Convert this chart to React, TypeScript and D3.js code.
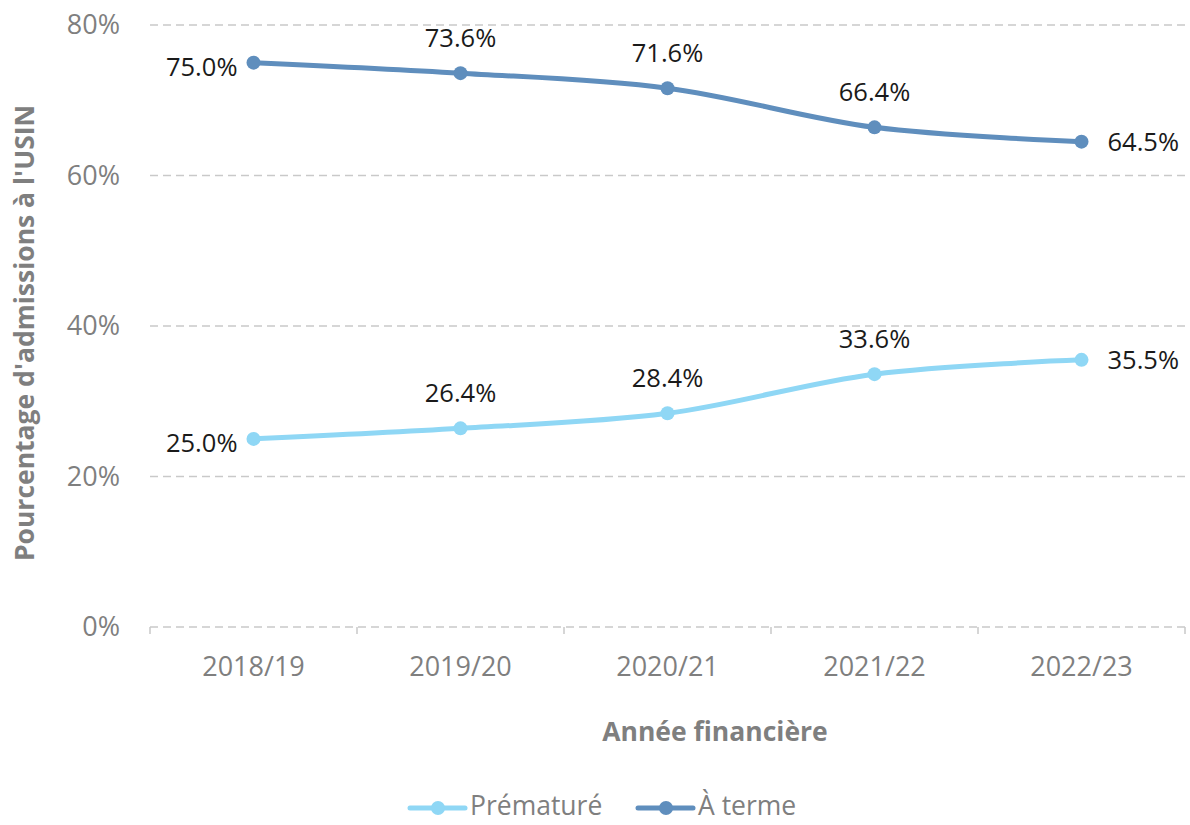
import React from "react";
import * as d3 from "d3";

const categories = ["2018/19", "2019/20", "2020/21", "2021/22", "2022/23"];
const premature = [25.0, 26.4, 28.4, 33.6, 35.5];
const aTerme = [75.0, 73.6, 71.6, 66.4, 64.5];
const yTicks = [0, 20, 40, 60, 80];
const labelPos = ["left", "above", "above", "above", "right"];

const W = 1190;
const H = 825;
const FONT = "'Open Sans', sans-serif";
const GRAY = "#7f7f7f";
const C_PRE = "#8fd7f5";
const C_TERM = "#5f8ebd";

export default function App() {
  const x = d3.scaleBand<string>().domain(categories).range([150, 1185]).padding(0);
  const y = d3.scaleLinear().domain([0, 80]).range([627, 25]);
  const cx = (c: string) => (x(c) as number) + x.bandwidth() / 2;
  const line = d3
    .line<number>()
    .x((_, i) => cx(categories[i]))
    .y((d) => y(d))
    .curve(d3.curveCatmullRom.alpha(0.5));

  const series = [
    { name: "Prématuré", values: premature, color: C_PRE },
    { name: "À terme", values: aTerme, color: C_TERM },
  ];

  const boundaries = categories.map((c) => x(c) as number).concat([1185]);

  return (
    <svg width={W} height={H} style={{ position: "absolute", left: 0, top: 0, background: "#fff" }} fontFamily={FONT}>
      {yTicks.map((t) => (
        <g key={t}>
          <line x1={150} x2={1185} y1={y(t)} y2={y(t)} stroke="#c9c9c9" strokeWidth={1.5} strokeDasharray="8,5" />
          <text x={120} y={y(t)} dy="0.35em" textAnchor="end" fontSize={27} fill={GRAY}>
            {t}%
          </text>
        </g>
      ))}
      {boundaries.map((b, i) => (
        <line key={i} x1={b} x2={b} y1={627} y2={634} stroke="#c9c9c9" strokeWidth={1.5} />
      ))}
      {categories.map((c) => (
        <text key={c} x={cx(c)} y={667} dy="0.35em" textAnchor="middle" fontSize={27} fill={GRAY}>
          {c}
        </text>
      ))}
      <text x={715} y={732} dy="0.35em" textAnchor="middle" fontSize={26.5} fontWeight="bold" fill={GRAY}>
        Année financière
      </text>
      <text
        transform={`translate(25,333) rotate(-90)`}
        dy="0.35em"
        textAnchor="middle"
        fontSize={26.5}
        fontWeight="bold"
        fill={GRAY}
      >
        Pourcentage d'admissions à l'USIN
      </text>
      {series.map((s) => (
        <g key={s.name}>
          <path d={line(s.values) || ""} fill="none" stroke={s.color} strokeWidth={5} strokeLinecap="round" />
          {s.values.map((v, i) => (
            <circle key={i} cx={cx(categories[i])} cy={y(v)} r={7} fill={s.color} />
          ))}
          {s.values.map((v, i) => {
            const px = cx(categories[i]);
            const py = y(v);
            const pos = labelPos[i];
            let tx = px;
            let ty = py - 35;
            let anchor: "start" | "middle" | "end" = "middle";
            if (pos === "left") {
              tx = px - 16;
              ty = py + 4;
              anchor = "end";
            } else if (pos === "right") {
              tx = px + 26;
              ty = py;
              anchor = "start";
            }
            return (
              <text key={"l" + i} x={tx} y={ty} dy="0.35em" textAnchor={anchor} fontSize={25.5} fill="#1a1a1a">
                {v.toFixed(1)}%
              </text>
            );
          })}
        </g>
      ))}
      {[
        { s: series[0], x0: 410 },
        { s: series[1], x0: 638 },
      ].map(({ s, x0 }) => (
        <g key={s.name}>
          <line x1={x0} x2={x0 + 55} y1={808} y2={808} stroke={s.color} strokeWidth={5} strokeLinecap="round" />
          <circle cx={x0 + 28} cy={808} r={7} fill={s.color} />
          <text x={x0 + 60} y={806} dy="0.35em" fontSize={26.5} fill={GRAY}>
            {s.name}
          </text>
        </g>
      ))}
    </svg>
  );
}
